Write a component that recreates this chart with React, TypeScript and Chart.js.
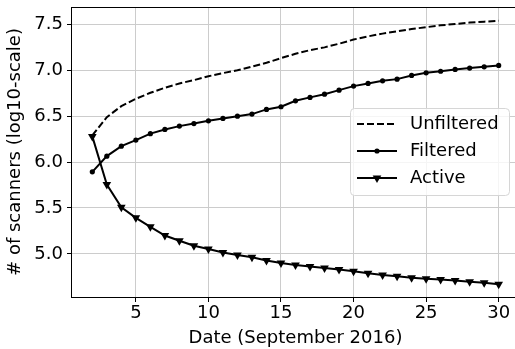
import { useEffect, useRef } from "react";
import { Chart, registerables } from "chart.js";

Chart.register(...registerables);

const days = [2, 3, 4, 5, 6, 7, 8, 9, 10, 11, 12, 13, 14, 15, 16, 17, 18, 19, 20, 21, 22, 23, 24, 25, 26, 27, 28, 29, 30];
const unfiltered = [6.29, 6.49, 6.61, 6.69, 6.755, 6.81, 6.857, 6.893, 6.935, 6.97, 7.0, 7.04, 7.082, 7.133, 7.18, 7.22, 7.25, 7.29, 7.335, 7.37, 7.4, 7.425, 7.45, 7.47, 7.49, 7.505, 7.52, 7.53, 7.54];
const filtered = [5.894, 6.065, 6.174, 6.24, 6.31, 6.356, 6.392, 6.42, 6.45, 6.476, 6.5, 6.523, 6.574, 6.603, 6.668, 6.705, 6.74, 6.784, 6.828, 6.857, 6.886, 6.904, 6.944, 6.973, 6.99, 7.01, 7.024, 7.038, 7.053];
const active = [6.28, 5.755, 5.507, 5.393, 5.295, 5.2, 5.143, 5.088, 5.052, 5.015, 4.987, 4.962, 4.928, 4.9, 4.878, 4.862, 4.845, 4.83, 4.81, 4.79, 4.77, 4.755, 4.74, 4.73, 4.72, 4.71, 4.695, 4.685, 4.67];
const xTicks = [5, 10, 15, 20, 25, 30];
const yTicks = [5.0, 5.5, 6.0, 6.5, 7.0, 7.5];
const seriesLabels = ["Unfiltered", "Filtered", "Active"];
const xTitle = "Date (September 2016)";
const yTitle = "# of scanners (log10-scale)";

const FONT = "DejaVu Sans";

const toPoints = (vals: number[]) => days.map((d, i) => ({ x: d, y: vals[i] }));

const spinesPlugin = {
  id: "spines",
  afterDatasetsDraw(chart: any) {
    const { ctx, chartArea } = chart;
    ctx.save();
    ctx.strokeStyle = "#000";
    ctx.lineWidth = 1;
    ctx.strokeRect(Math.round(chartArea.left) - 0.5, Math.round(chartArea.top) + 0.5, chartArea.right - chartArea.left, Math.round(chartArea.bottom) - Math.round(chartArea.top));
    ctx.restore();
  },
};

const legendPlugin = {
  id: "mplLegend",
  afterDraw(chart: any) {
    const { ctx } = chart;
    const bx = 350, by = 108, bw = 159, bh = 87;
    ctx.save();
    ctx.beginPath();
    ctx.roundRect(bx + 0.5, by + 0.5, bw, bh, 4);
    ctx.fillStyle = "rgba(255,255,255,0.8)";
    ctx.fill();
    ctx.strokeStyle = "#d6d6d6";
    ctx.lineWidth = 1;
    ctx.stroke();
    const rows = [124, 151, 178];
    chart.data.datasets.forEach((ds: any, i: number) => {
      const y = rows[i];
      const x0 = 357, x1 = 397;
      ctx.beginPath();
      ctx.setLineDash(ds.borderDash || []);
      ctx.strokeStyle = "#000";
      ctx.lineWidth = ds.borderWidth;
      ctx.moveTo(x0, y);
      ctx.lineTo(x1, y);
      ctx.stroke();
      ctx.setLineDash([]);
      const cx = (x0 + x1) / 2;
      if (ds.pointRadius > 0) {
        ctx.fillStyle = "#000";
        ctx.beginPath();
        if (ds.pointStyle === "triangle") {
          const r = ds.pointRadius;
          const rot = ((ds.pointRotation || 0) * Math.PI) / 180;
          let a = rot;
          ctx.moveTo(cx + Math.sin(a) * r, y - Math.cos(a) * r);
          a += (2 * Math.PI) / 3;
          ctx.lineTo(cx + Math.sin(a) * r, y - Math.cos(a) * r);
          a += (2 * Math.PI) / 3;
          ctx.lineTo(cx + Math.sin(a) * r, y - Math.cos(a) * r);
          ctx.closePath();
        } else {
          ctx.arc(cx, y, ds.pointRadius, 0, Math.PI * 2);
        }
        ctx.fill();
      }
      ctx.fillStyle = "#000";
      ctx.font = `18px "${FONT}"`;
      ctx.textBaseline = "middle";
      ctx.textAlign = "left";
      ctx.fillText(ds.label, 410, y);
    });
    ctx.restore();
  },
};

export default function App() {
  const ref = useRef<HTMLCanvasElement | null>(null);
  useEffect(() => {
    document.body.style.margin = "0";
    const canvas = ref.current;
    if (!canvas) return;
    const chart = new Chart(canvas, {
      type: "line",
      data: {
        datasets: [
          {
            label: seriesLabels[0],
            data: toPoints(unfiltered),
            borderColor: "#000",
            backgroundColor: "#000",
            borderWidth: 2,
            borderDash: [7, 3],
            pointRadius: 0,
            tension: 0,
          },
          {
            label: seriesLabels[1],
            data: toPoints(filtered),
            borderColor: "#000",
            backgroundColor: "#000",
            borderWidth: 2,
            pointRadius: 2.6,
            pointStyle: "circle",
            pointBorderWidth: 0,
            tension: 0,
          },
          {
            label: seriesLabels[2],
            data: toPoints(active),
            borderColor: "#000",
            backgroundColor: "#000",
            borderWidth: 2,
            pointRadius: 5,
            pointStyle: "triangle",
            pointRotation: 180,
            pointBorderWidth: 0,
            tension: 0,
          },
        ] as any,
      },
      options: {
        animation: false,
        responsive: false,
        devicePixelRatio: 1,
        layout: { padding: { left: 0, top: 7, right: 6, bottom: 0 } },
        plugins: { legend: { display: false }, tooltip: { enabled: false } },
        scales: {
          x: {
            type: "linear",
            min: 0.6,
            max: 31.4,
            afterFit: (s: any) => {
              s.height = 52;
              s.paddingLeft = 0;
              s.paddingRight = 0;
              s.paddingTop = 0;
              s.paddingBottom = 0;
            },
            afterBuildTicks: (s: any) => {
              s.ticks = xTicks.map((v) => ({ value: v }));
            },
            ticks: {
              color: "#000",
              font: { family: FONT, size: 18 },
              padding: 1,
              maxRotation: 0,
              callback: (v: any) => String(v),
            },
            grid: { color: "#cccccc", lineWidth: 1, tickColor: "#000", tickLength: 5, drawTicks: true },
            border: { display: false },
            title: { display: true, text: xTitle, color: "#000", font: { family: FONT, size: 18 }, padding: { top: 0, bottom: 0 } },
          },
          y: {
            type: "linear",
            min: 4.53,
            max: 7.69,
            afterFit: (s: any) => {
              s.width = 72;
              s.paddingLeft = 0;
              s.paddingRight = 0;
              s.paddingTop = 0;
              s.paddingBottom = 0;
            },
            afterBuildTicks: (s: any) => {
              s.ticks = yTicks.map((v) => ({ value: v }));
            },
            ticks: {
              color: "#000",
              font: { family: FONT, size: 18 },
              padding: 4,
              callback: (v: any) => Number(v).toFixed(1),
            },
            grid: { color: "#cccccc", lineWidth: 1, tickColor: "#000", tickLength: 5, drawTicks: true },
            border: { display: false },
            title: { display: true, text: yTitle, color: "#000", font: { family: FONT, size: 18 }, padding: { top: 5, bottom: 0 } },
          },
        },
      },
      plugins: [spinesPlugin, legendPlugin],
    });
    return () => chart.destroy();
  }, []);
  return (
    <div style={{ width: 515, height: 349, overflow: "hidden" }}>
      <canvas ref={ref} width={525} height={349} style={{ display: "block" }} />
    </div>
  );
}
